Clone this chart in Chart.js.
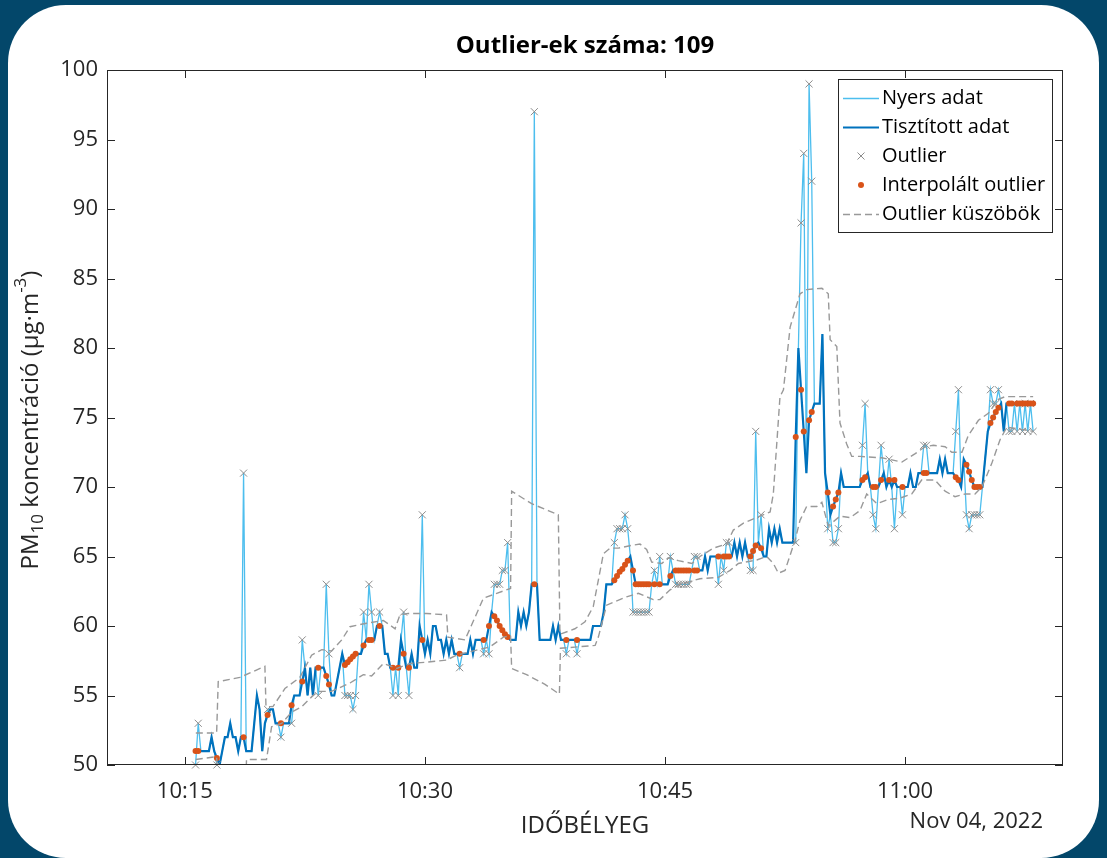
<!DOCTYPE html>
<html>
<head>
<meta charset="utf-8">
<script src="https://cdn.jsdelivr.net/npm/chart.js@4.4.1/dist/chart.umd.min.js"></script>
<style>
  html, body { margin: 0; padding: 0; background: #03476a; }
  body { width: 1107px; height: 858px; overflow: hidden; position: relative; }
  #card { position: absolute; left: 8px; top: 5px; width: 1091px; height: 853px; background: #fff; border-radius: 58px; }
  #wrap { position: absolute; left: 0; top: 0; width: 1107px; height: 858px; }
</style>
</head>
<body>
<div id="card"></div>
<div id="wrap"><canvas id="c" width="1107" height="858"></canvas></div>
<script>
// Time is counted in seconds from 10:10:00; one PM10 reading every 10 s from 10:15:40.
const START_S = 340;
const STEP_S = 10;

// Raw sensor readings (µg/m³)
const rawPM = [
  50,53,51,51,51,51,52,51,50,50,
  51,52,52,53,52,52,51,52,71,51,
  51,51,53,55,54,51,53,54,54,54,
  53,53,52,53,53,53,53,55,55,55,
  59,57,55,57,55,57,55,57,57,63,
  58,55,55,56,57,58,55,55,55,54,
  55,58,58,61,59,63,61,59,60,61,
  60,58,58,57,55,57,55,59,61,57,
  55,58,57,57,60,68,58,59,58,60,
  60,59,59,58,59,58,59,58,58,57,
  58,58,58,59,58,59,59,59,58,59,
  58,61,63,63,63,64,64,66,59,59,
  59,61,60,61,60,61,63,97,63,59,
  59,59,59,59,60,59,60,59,59,58,
  59,59,59,58,59,59,59,59,59,60,
  60,60,60,61,63,63,63,66,67,67,
  67,68,67,65,61,61,61,61,61,61,
  61,63,64,63,65,63,63,63,65,64,
  63,63,63,63,63,63,64,65,65,64,
  64,65,64,65,65,65,63,65,64,66,
  66,65,66,65,66,65,66,65,64,64,
  74,66,68,65,65,67,66,67,66,67,
  66,66,66,66,66,66,80,89,94,71,
  99,92,76,76,76,81,71,67,68,66,
  66,67,71,70,70,70,70,70,70,70,
  73,76,71,70,68,67,70,73,71,70,
  72,70,67,70,70,68,70,70,71,70,
  70,71,71,73,73,71,71,71,71,72,
  71,72,71,71,71,74,77,70,72,68,
  67,68,68,68,68,70,72,74,77,76,
  76,77,76,74,76,74,74,76,74,76,
  74,76,74,76,74
];

// Positions of the flagged readings and the values that replace them
const outlierIdx = [
  0,1,8,18,
  27,32,36,40,46,49,50,
  56,57,58,59,60,
  63,65,66,69,
  74,76,78,80,85,
  99,108,110,
  112,113,114,115,116,117,
  127,139,143,
  157,158,159,160,161,162,
  164,165,166,167,168,169,170,
  172,174,178,
  180,181,182,183,184,185,
  187,188,
  196,198,199,200,
  208,209,210,212,
  225,227,228,230,231,
  237,239,240,241,
  250,251,254,255,257,260,262,265,
  273,274,
  285,286,
  289,290,291,292,293,294,
  298,299,300,301,
  305,306,
  308,309,310,311,312,313,314
];
const filledPM = [
  51,51,50.5,52,
  53.6,53,54.3,56,57,56.4,55.8,
  57.2,57.4,57.6,57.8,58,
  58.6,59,59,60,
  57,57,58,57,59,
  58,59,60,
  60.7,60.4,60,59.7,59.4,59.2,
  63,59,59,
  63.3,63.6,63.9,64.1,64.4,64.7,
  64,63,63,63,63,63,63,
  63,63,63.6,
  64,64,64,64,64,64,
  64,64,
  65,65,65,65,
  65,65.4,65.8,65.6,
  73.6,77,74,74.8,75.4,
  69.6,68.6,69.1,69.6,
  70.5,70.7,70,70,70.5,70.5,70.5,70,
  71,71,
  70.7,70.5,
  71.6,71.1,70.5,70,70,70,
  74.6,75,75.4,75.7,
  76,76,
  76,76,76,76,76,76,76
];

// Moving outlier limits (seconds, µg/m³)
const upperT = [341,419,425,506,600,604,630,675,731,775,813,850,888,919,981,1044,1088,1106,1137,1206,1281,1286,1320,1350,1394,1419,1469,1521,1525,1600,1662,1700,1706,1762,1800,1831,1869,1894,1925,1975,2006,2031,2050,2088,2112,2150,2201,2231,2281,2331,2356,2394,2456,2494,2506,2531,2544,2569,2606,2631,2688,2712,2719,2744,2756,2781,2800,2831,2913,2988,3038,3075,3106,3150,3175,3213,3237,3275,3312,3350,3375,3480];
const upperV = [52.3,52.3,56,56.3,57.1,54.2,54.2,55.5,56.3,57.9,58.3,58.2,59.0,59.95,60.2,60.4,59.8,60.8,60.9,60.9,60.8,59.2,59.1,59.0,60.9,62.0,62.35,62.7,69.7,68.8,68.3,68.0,59.4,59.8,60.3,61.4,65.2,65.6,65.6,65.8,65.9,65.5,64.6,64.5,64.9,64.7,64.5,65.0,65.6,65.9,66.9,67.4,67.9,68.2,69.5,76.5,77.0,81.5,83.9,84.2,84.3,83.9,80.6,80.1,74.6,73.1,72.2,72.2,72.1,71.8,72.4,72.9,73.0,72.9,72.5,72.5,73.7,74.8,75.3,76.3,76.5,76.5];
const lowerT = [341,419,425,527,531,606,625,663,700,738,775,800,850,919,969,1000,1044,1094,1144,1206,1281,1319,1369,1444,1494,1521,1525,1581,1650,1704,1708,1838,1850,1881,1956,2000,2056,2081,2119,2156,2231,2300,2344,2375,2444,2481,2506,2525,2550,2588,2606,2631,2669,2688,2712,2756,2794,2831,2856,2894,2937,2981,3025,3062,3112,3150,3187,3225,3262,3288,3325,3356,3381,3450,3480];
const lowerV = [50.4,50.6,48,48,50.4,50.4,52.75,53.0,53.8,54.2,54.9,55.3,55.3,55.9,56.5,56.4,57.3,56.95,57.3,57.4,57.55,57.9,58.15,58.5,59.2,59.3,56.95,56.5,55.8,55.1,58.4,58.6,59.2,61.5,62.1,62.35,61.9,61.9,62.6,63.0,63.4,63.5,64.0,64.5,64.75,65.0,64.5,63.8,64.0,66.2,67.6,68.6,68.6,68.9,67.2,67.9,67.8,68.3,69.5,68.8,69.1,69.2,69.5,70.5,70.5,69.7,69.3,69.5,69.5,70.0,71.7,73.4,74.3,74.1,74.0];

// Axis ticks
const xTickSeconds = [300, 1200, 2100, 3000];
const xTickLabels = ['10:15', '10:30', '10:45', '11:00'];
const yTickValues = [50, 55, 60, 65, 70, 75, 80, 85, 90, 95, 100];

// Build the plotted series
const times = rawPM.map((_, i) => START_S + i * STEP_S);
const cleanPM = rawPM.slice();
outlierIdx.forEach((k, j) => { cleanPM[k] = filledPM[j]; });

const rawPts = rawPM.map((v, i) => ({ x: times[i], y: v }));
const cleanPts = cleanPM.map((v, i) => ({ x: times[i], y: v }));
const outPts = outlierIdx.map(k => ({ x: times[k], y: rawPM[k] }));
const fillPts = outlierIdx.map((k, j) => ({ x: times[k], y: filledPM[j] }));
const upperPts = upperT.map((t, i) => ({ x: t, y: upperV[i] }));
const lowerPts = lowerT.map((t, i) => ({ x: t, y: lowerV[i] }));

const FONT = "'Open Sans', 'DejaVu Sans', sans-serif";
const AXIS = '#262626';
const C_RAW = '#4DBEEE', C_CLEAN = '#0072BD', C_OUT = '#8c8c8c', C_FILL = '#D95319', C_THR = '#999999';

const legendItems = [
  { label: 'Nyers adat', kind: 'line', color: C_RAW, width: 1.3 },
  { label: 'Tisztított adat', kind: 'line', color: C_CLEAN, width: 2.2 },
  { label: 'Outlier', kind: 'x', color: C_OUT },
  { label: 'Interpolált outlier', kind: 'dot', color: C_FILL },
  { label: 'Outlier küszöbök', kind: 'dash', color: C_THR }
];

const decorations = {
  id: 'decorations',
  afterDatasetsDraw(chart) {
    const { ctx, chartArea: a, scales } = chart;
    ctx.save();
    ctx.strokeStyle = AXIS;
    ctx.lineWidth = 1;
    // axes box
    ctx.strokeRect(a.left + 0.5, a.top + 0.5, a.right - a.left - 1, a.bottom - a.top - 1);
    // inward tick marks on all four sides
    const TL = 8;
    ctx.beginPath();
    yTickValues.forEach(v => {
      const y = Math.round(scales.y.getPixelForValue(v)) + 0.5;
      ctx.moveTo(a.left, y); ctx.lineTo(a.left + TL, y);
      ctx.moveTo(a.right, y); ctx.lineTo(a.right - TL, y);
    });
    xTickSeconds.forEach(v => {
      const x = Math.round(scales.x.getPixelForValue(v)) + 0.5;
      ctx.moveTo(x, a.bottom); ctx.lineTo(x, a.bottom - TL);
      ctx.moveTo(x, a.top); ctx.lineTo(x, a.top + TL);
    });
    ctx.stroke();
    ctx.restore();
  },
  afterDraw(chart) {
    const { ctx, chartArea: a } = chart;
    ctx.save();
    // title
    ctx.fillStyle = '#000';
    ctx.font = 'bold 24px ' + FONT;
    ctx.textAlign = 'center';
    ctx.textBaseline = 'middle';
    ctx.fillText('Outlier-ek száma: 109', (a.left + a.right) / 2, 46);

    // x axis label and date
    ctx.fillStyle = AXIS;
    ctx.font = '24px ' + FONT;
    ctx.fillText('IDŐBÉLYEG', (a.left + a.right) / 2, 826);
    ctx.font = '22px ' + FONT;
    ctx.textAlign = 'right';
    ctx.fillText('Nov 04, 2022', 1043, 822);

    // y axis label with sub/superscripts
    const parts = [
      { t: 'PM', s: 24, dy: 0 },
      { t: '10', s: 17, dy: 7 },
      { t: ' koncentráció (µg·m', s: 24, dy: 0 },
      { t: '-3', s: 17, dy: -10 },
      { t: ')', s: 24, dy: 0 }
    ];
    let total = 0;
    parts.forEach(p => { ctx.font = p.s + 'px ' + FONT; p.w = ctx.measureText(p.t).width; total += p.w; });
    ctx.translate(31, 420);
    ctx.rotate(-Math.PI / 2);
    ctx.textAlign = 'left';
    ctx.textBaseline = 'middle';
    let cx = -total / 2;
    parts.forEach(p => {
      ctx.font = p.s + 'px ' + FONT;
      ctx.fillText(p.t, cx, p.dy);
      cx += p.w;
    });
    ctx.restore();

    // legend
    ctx.save();
    const L = 838, T = 79, W = 214, H = 153;
    ctx.fillStyle = '#fff';
    ctx.fillRect(L, T, W, H);
    ctx.strokeStyle = AXIS;
    ctx.lineWidth = 1;
    ctx.strokeRect(L + 0.5, T + 0.5, W, H);
    ctx.font = '20px ' + FONT;
    ctx.textAlign = 'left';
    ctx.textBaseline = 'middle';
    legendItems.forEach((it, i) => {
      const y = 98 + i * 29;
      const x0 = 843, x1 = 879, xm = 861;
      ctx.save();
      if (it.kind === 'line' || it.kind === 'dash') {
        ctx.strokeStyle = it.color;
        ctx.lineWidth = it.width || 1.4;
        if (it.kind === 'dash') ctx.setLineDash([7, 4]);
        ctx.beginPath(); ctx.moveTo(x0, y + 0.5); ctx.lineTo(x1, y + 0.5); ctx.stroke();
      } else if (it.kind === 'x') {
        ctx.strokeStyle = it.color; ctx.lineWidth = 1;
        const r = 3.5;
        ctx.beginPath();
        ctx.moveTo(xm - r, y - r); ctx.lineTo(xm + r, y + r);
        ctx.moveTo(xm - r, y + r); ctx.lineTo(xm + r, y - r);
        ctx.stroke();
      } else {
        ctx.fillStyle = it.color;
        ctx.beginPath(); ctx.arc(xm, y, 3, 0, Math.PI * 2); ctx.fill();
      }
      ctx.restore();
      ctx.fillStyle = '#000';
      ctx.fillText(it.label, 882, y);
    });
    ctx.restore();
  }
};

new Chart(document.getElementById('c'), {
  type: 'line',
  data: {
    datasets: [
      { label: 'Outlier küszöbök (felső)', data: upperPts, borderColor: C_THR, borderWidth: 1.4, borderDash: [7, 4], pointRadius: 0, fill: false, tension: 0, order: 0 },
      { label: 'Outlier küszöbök (alsó)', data: lowerPts, borderColor: C_THR, borderWidth: 1.4, borderDash: [7, 4], pointRadius: 0, fill: false, tension: 0, order: 0 },
      { label: 'Interpolált outlier', data: fillPts, showLine: false, pointStyle: 'circle', pointRadius: 3, pointBackgroundColor: C_FILL, pointBorderWidth: 0, clip: false, order: 1 },
      { label: 'Outlier', data: outPts, showLine: false, pointStyle: 'crossRot', pointRadius: 5, pointBorderColor: C_OUT, pointBorderWidth: 1, clip: false, order: 2 },
      { label: 'Tisztított adat', data: cleanPts, borderColor: C_CLEAN, borderWidth: 2.2, pointRadius: 0, fill: false, tension: 0, order: 3 },
      { label: 'Nyers adat', data: rawPts, borderColor: C_RAW, borderWidth: 1.3, pointRadius: 0, fill: false, tension: 0, order: 4 }
    ]
  },
  options: {
    responsive: false,
    animation: false,
    devicePixelRatio: 1,
    events: [],
    layout: { padding: { top: 70, right: 44, bottom: 0, left: 0 } },
    plugins: { legend: { display: false }, tooltip: { enabled: false }, title: { display: false } },
    scales: {
      x: {
        type: 'linear',
        min: 8,
        max: 3592,
        afterBuildTicks(axis) { axis.ticks = xTickSeconds.map(v => ({ value: v })); },
        afterFit(axis) { axis.height = 93; },
        grid: { display: false, drawTicks: false },
        border: { display: false },
        ticks: {
          autoSkip: false,
          maxRotation: 0,
          padding: 14,
          color: AXIS,
          font: { family: FONT, size: 22 },
          callback(v) { const k = xTickSeconds.indexOf(v); return k >= 0 ? xTickLabels[k] : ''; }
        }
      },
      y: {
        min: 50,
        max: 100,
        afterBuildTicks(axis) { axis.ticks = yTickValues.map(v => ({ value: v })); },
        afterFit(axis) { axis.width = 107; },
        grid: { display: false, drawTicks: false },
        border: { display: false },
        ticks: { padding: 9, color: AXIS, font: { family: FONT, size: 22 } }
      }
    }
  },
  plugins: [decorations]
});
</script>
</body>
</html>
